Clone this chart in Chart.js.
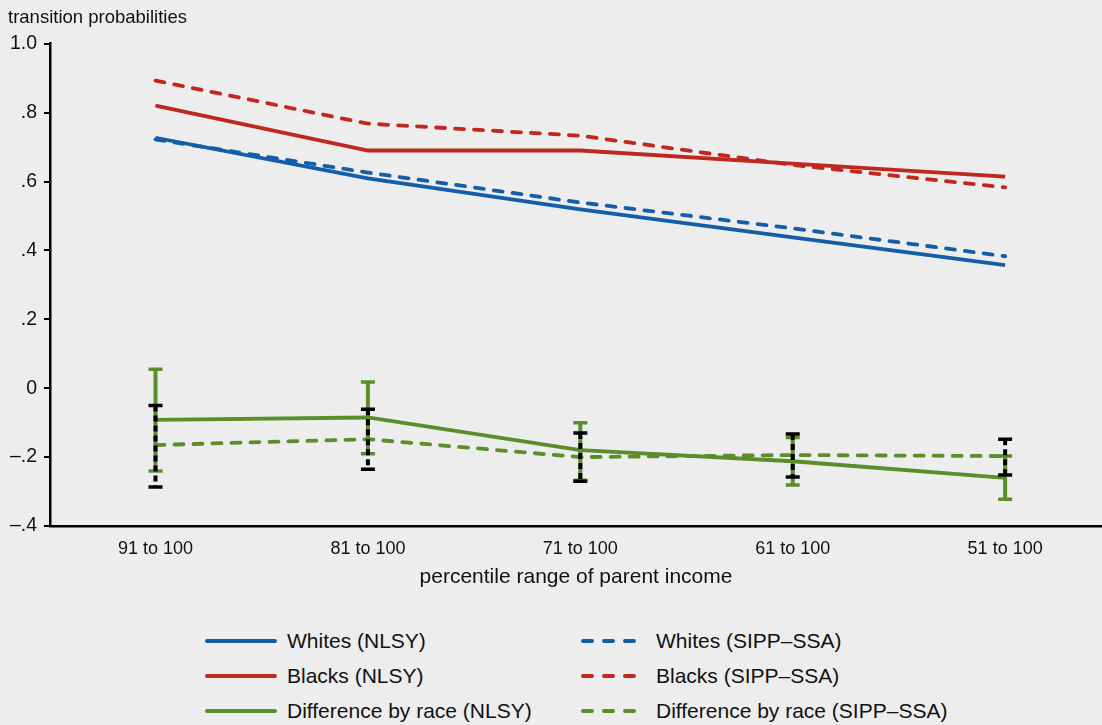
<!DOCTYPE html>
<html>
<head>
<meta charset="utf-8">
<script src="https://cdn.jsdelivr.net/npm/chart.js@4/dist/chart.umd.min.js"></script>
<style>
  body { margin: 0; background: #ededed; font-family: "Liberation Sans", Arial, sans-serif; color: #111; }
  #wrap { position: relative; width: 1102px; height: 725px; }
  #box { position: absolute; left: 0; top: 0; width: 1102px; height: 600px; }
  .leg { position: absolute; font-size: 21px; line-height: 24px; white-space: nowrap; }
  .leg svg { position: absolute; left: 0; top: 9px; }
  .leg span { position: absolute; top: 0; }
</style>
</head>
<body>
<div id="wrap">
  <div id="box"><canvas id="c"></canvas></div>
  <div id="legend"></div>
</div>
<script>
const categories = ['91 to 100', '81 to 100', '71 to 100', '61 to 100', '51 to 100'];
const whitesNlsy = [0.727, 0.609, 0.519, 0.438, 0.357];
const whitesSipp = [0.722, 0.626, 0.539, 0.464, 0.383];
const blacksNlsy = [0.820, 0.690, 0.690, 0.652, 0.614];
const blacksSipp = [0.893, 0.768, 0.733, 0.648, 0.583];
const diffNlsy = [-0.092, -0.085, -0.180, -0.212, -0.260];
const diffSipp = [-0.165, -0.148, -0.200, -0.194, -0.197];
const diffNlsyLo = [-0.240, -0.190, -0.267, -0.281, -0.322];
const diffNlsyHi = [0.055, 0.018, -0.100, -0.143, -0.197];
const diffSippLo = [-0.287, -0.235, -0.270, -0.258, -0.252];
const diffSippHi = [-0.050, -0.061, -0.130, -0.133, -0.148];
const yTicks = [1.0, 0.8, 0.6, 0.4, 0.2, 0, -0.2, -0.4];

const blue = '#145ea8';
const red = '#c0271f';
const green = '#5c8d2b';
const font = '"Liberation Sans", Arial, sans-serif';

const pts = (vals) => vals.map((v, i) => ({ x: i, y: v }));

const line = (label, vals, color, dashed) => ({
    label: label,
    data: pts(vals),
    borderColor: color,
    borderWidth: 3.8,
    borderDash: dashed ? [9, 10] : [],
    borderCapStyle: dashed ? 'round' : 'butt',
    pointRadius: 0,
    tension: 0,
    fill: false
});

const legendItems = [
    ['Whites (NLSY)', blue, false], ['Whites (SIPP\u2013SSA)', blue, true],
    ['Blacks (NLSY)', red, false], ['Blacks (SIPP\u2013SSA)', red, true],
    ['Difference by race (NLSY)', green, false], ['Difference by race (SIPP\u2013SSA)', green, true]
];

// error bars drawn with the chart's own scales
const errBars = {
    id: 'errBars',
    afterDatasetsDraw(chart) {
        const { ctx, scales: { x, y } } = chart;
        const draw = (lo, hi, color, dashed) => {
            lo.forEach((l, i) => {
                const px = x.getPixelForValue(i);
                const y1 = y.getPixelForValue(hi[i]);
                const y2 = y.getPixelForValue(l);
                ctx.save();
                ctx.strokeStyle = color;
                ctx.lineWidth = 4;
                ctx.setLineDash(dashed ? [6, 4] : []);
                ctx.beginPath();
                ctx.moveTo(px, y1);
                ctx.lineTo(px, y2);
                ctx.stroke();
                ctx.setLineDash([]);
                ctx.lineWidth = 3.5;
                ctx.beginPath();
                ctx.moveTo(px - 7, y1); ctx.lineTo(px + 7, y1);
                ctx.moveTo(px - 7, y2); ctx.lineTo(px + 7, y2);
                ctx.stroke();
                ctx.restore();
            });
        };
        draw(diffNlsyLo, diffNlsyHi, green, false);
        draw(diffSippLo, diffSippHi, '#000', true);
    }
};

new Chart(document.getElementById('c'), {
    type: 'line',
    data: {
        datasets: [
            line('Whites (NLSY)', whitesNlsy, blue, false),
            line('Whites (SIPP\u2013SSA)', whitesSipp, blue, true),
            line('Blacks (NLSY)', blacksNlsy, red, false),
            line('Blacks (SIPP\u2013SSA)', blacksSipp, red, true),
            line('Difference by race (NLSY)', diffNlsy, green, false),
            line('Difference by race (SIPP\u2013SSA)', diffSipp, green, true)
        ]
    },
    options: {
        responsive: true,
        maintainAspectRatio: false,
        animation: false,
        layout: { padding: { left: 8, right: 0, top: 0, bottom: 0 } },
        plugins: {
            legend: { display: false },
            tooltip: { enabled: false },
            title: {
                display: true,
                text: 'transition probabilities',
                align: 'start',
                color: '#111',
                font: { family: font, size: 18.5, weight: 'normal', lineHeight: 1.2 },
                padding: { top: 7, bottom: 14.5 }
            }
        },
        scales: {
            x: {
                type: 'linear',
                min: -0.4967,
                max: 4.456,
                afterBuildTicks: (s) => { s.ticks = categories.map((c, i) => ({ value: i })); },
                afterFit: (s) => { s.height = 74; },
                ticks: {
                    callback: (v) => categories[v],
                    color: '#111',
                    padding: 12,
                    maxRotation: 0,
                    font: { family: font, size: 18 }
                },
                grid: { display: true, drawOnChartArea: false, drawTicks: false },
                border: { display: true, color: '#000', width: 2.5 },
                title: {
                    display: true,
                    text: 'percentile range of parent income',
                    color: '#111',
                    font: { family: font, size: 21, lineHeight: 1.2 },
                    padding: { top: 4, bottom: 10 }
                }
            },
            y: {
                min: -0.4,
                max: 1.0,
                afterBuildTicks: (s) => { s.ticks = yTicks.map(v => ({ value: v })); },
                afterFit: (s) => { s.width = 42; },
                ticks: {
                    callback: (v) => {
                        if (Math.abs(v) < 1e-9) return '0';
                        let t = Math.abs(v).toFixed(1).replace(/^0/, '');
                        return (v < 0 ? '\u2013' : '') + t;
                    },
                    color: '#111',
                    padding: 7,
                    font: { family: font, size: 19.5 }
                },
                grid: { display: true, drawOnChartArea: false, drawTicks: true, tickLength: 6, color: '#000', lineWidth: 2 },
                border: { display: true, color: '#000', width: 2.5 }
            }
        }
    },
    plugins: [errBars]
});

// legend, two columns
const legend = document.getElementById('legend');
legendItems.forEach((it, i) => {
    const col = i % 2, row = Math.floor(i / 2);
    const d = document.createElement('div');
    d.className = 'leg';
    d.style.left = (col === 0 ? 205 : 581) + 'px';
    d.style.top = (629 + row * 35) + 'px';
    const dash = it[2] ? 'stroke-dasharray="9 12"' : '';
    const w = col === 0 ? 72 : 62;
    d.innerHTML = '<svg width="' + w + '" height="6"><line x1="2" y1="3" x2="' + (w - 2) + '" y2="3" stroke="' + it[1] +
        '" stroke-width="4" stroke-linecap="round" ' + dash + '/></svg><span style="left:' + (col === 0 ? 82 : 75) + 'px">' + it[0] + '</span>';
    legend.appendChild(d);
});
</script>
</body>
</html>
